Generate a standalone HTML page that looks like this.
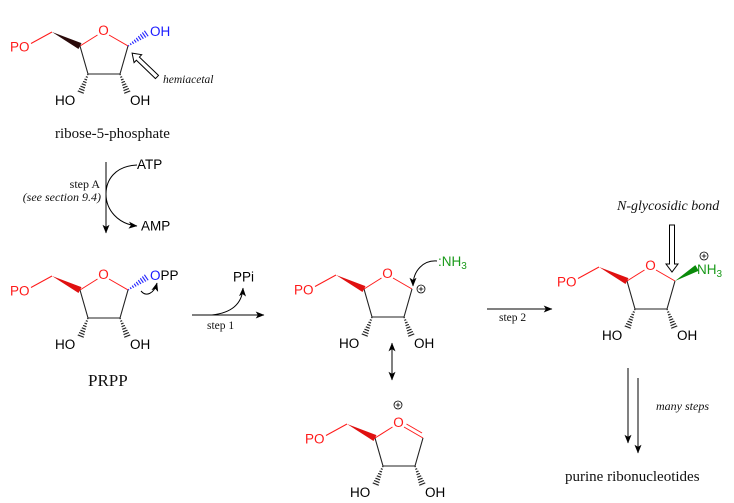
<!DOCTYPE html>
<html><head><meta charset="utf-8"><style>
html,body{margin:0;padding:0;background:#fff;}
svg{display:block;}
.a{font-family:"Liberation Sans",Arial,sans-serif;font-size:13.5px;}
.s{font-family:"Liberation Serif","Times New Roman",serif;fill:#111;}
.i{font-style:italic;}
</style></head><body>
<svg width="734" height="503" viewBox="0 0 734 503" xmlns="http://www.w3.org/2000/svg">
<defs>
<pattern id="hk" patternUnits="userSpaceOnUse" x="0" y="-10" width="2.7" height="20"><rect x="0" y="0" width="1.1" height="20" fill="#111"/></pattern>
<pattern id="hb" patternUnits="userSpaceOnUse" x="0" y="-10" width="2.7" height="20"><rect x="0" y="0" width="1.1" height="20" fill="#1a1aff"/></pattern>
<clipPath id="tri" clipPathUnits="objectBoundingBox"><polygon points="0,0.42 1,0 1,1 0,0.58"/></clipPath>
<marker id="ah" viewBox="0 0 10 8" refX="9.5" refY="4" markerWidth="9" markerHeight="7" markerUnits="userSpaceOnUse" orient="auto-start-reverse"><path d="M0,0 L10,4 L0,8 L2.5,4z" fill="#000"/></marker>
<g id="ring">
 <line x1="31" y1="43.5" x2="52" y2="32" stroke="#ff1a1a" stroke-width="1"/>
 <line x1="80" y1="46" x2="97.5" y2="35" stroke="#ff1a1a" stroke-width="1"/>
 <line x1="109" y1="35" x2="128" y2="46" stroke="#ff1a1a" stroke-width="1"/>
 <path d="M128,46 L120,74 L88,74 L80,46" fill="none" stroke="#222" stroke-width="1.1"/>
 <g transform="translate(88,74) rotate(111.8)"><rect x="0" y="-3.5" width="21.5" height="7" fill="url(#hk)" clip-path="url(#tri)"/></g>
 <g transform="translate(120,74) rotate(68.2)"><rect x="0" y="-3.5" width="21.5" height="7" fill="url(#hk)" clip-path="url(#tri)"/></g>
</g>
</defs>
<rect width="734" height="503" fill="#fff"/>

<!-- Molecule 1: ribose-5-phosphate -->
<g transform="translate(0,0)">
 <use href="#ring"/>
 <g transform="translate(52,32) rotate(26.6)"><polygon points="0,0 31.3,-3.3 31.3,3.3" fill="#2a0a0a"/></g>
 <g transform="translate(128,46) rotate(-34.4)"><rect x="0" y="-3.5" width="23" height="7" fill="url(#hb)" clip-path="url(#tri)"/></g>
 <text class="a" x="10" y="51.5" fill="#ff1a1a">PO</text>
 <text class="a" x="103.5" y="35" fill="#ff1a1a" text-anchor="middle">O</text>
 <text class="a" x="150" y="36" fill="#1a1aff">OH</text>
 <text class="a" x="55" y="105" fill="#000">HO</text>
 <text class="a" x="130" y="105" fill="#000">OH</text>
</g>
<g transform="translate(157,77) rotate(-136.2)"><polygon points="0,-2.2 26.5,-2.2 26.5,-5.5 34.5,0 26.5,5.5 26.5,2.2 0,2.2" fill="#fff" stroke="#000" stroke-width="1"/></g>
<text class="s i" x="163" y="83" font-size="11.5">hemiacetal</text>
<text class="s" x="55" y="138" font-size="15">ribose-5-phosphate</text>

<!-- Step A -->
<line x1="106" y1="162" x2="106" y2="233" stroke="#000" stroke-width="1" marker-end="url(#ah)"/>
<path d="M137,165 C115,166 106,180 106,194 C106,210 118,224 137,226" fill="none" stroke="#000" stroke-width="1" marker-end="url(#ah)"/>
<text class="a" x="137" y="169" font-size="12">ATP</text>
<text class="a" x="141" y="230.5" font-size="12">AMP</text>
<text class="s" x="100" y="188" font-size="12" text-anchor="end">step A</text>
<text class="s i" x="101" y="201" font-size="12" text-anchor="end">(see section 9.4)</text>

<!-- PRPP -->
<g transform="translate(0,244)">
 <use href="#ring"/>
 <g transform="translate(52,32) rotate(26.6)"><polygon points="0,0 31.3,-3.3 31.3,3.3" fill="#e01010"/></g>
 <g transform="translate(128,46) rotate(-34.4)"><rect x="0" y="-3.5" width="23" height="7" fill="url(#hb)" clip-path="url(#tri)"/></g>
 <text class="a" x="10" y="51.5" fill="#ff1a1a">PO</text>
 <text class="a" x="103.5" y="35" fill="#ff1a1a" text-anchor="middle">O</text>
 <text class="a" x="150" y="36"><tspan fill="#1a1aff">O</tspan><tspan fill="#000">PP</tspan></text>
 <text class="a" x="55" y="105" fill="#000">HO</text>
 <text class="a" x="130" y="105" fill="#000">OH</text>
</g>
<path d="M141,291 C146,297 154,294 157,283" fill="none" stroke="#000" stroke-width="1" marker-end="url(#ah)"/>
<text class="s" x="88" y="386" font-size="17">PRPP</text>

<!-- Step 1 -->
<line x1="192" y1="315" x2="264" y2="315" stroke="#000" stroke-width="1" marker-end="url(#ah)"/>
<path d="M212,315 C230,313 242,305 243,288" fill="none" stroke="#000" stroke-width="1" marker-end="url(#ah)"/>
<text class="a" x="233" y="281.5" font-size="11.5">PPi</text>
<text class="s" x="207" y="329" font-size="11.5">step 1</text>

<!-- Molecule 3: oxocarbenium -->
<g transform="translate(284,243)">
 <use href="#ring"/>
 <g transform="translate(52,32) rotate(26.6)"><polygon points="0,0 31.3,-3.3 31.3,3.3" fill="#e01010"/></g>
 <text class="a" x="10" y="51.5" fill="#ff1a1a">PO</text>
 <text class="a" x="103.5" y="35" fill="#ff1a1a" text-anchor="middle">O</text>
 <text class="a" x="55" y="105" fill="#000">HO</text>
 <text class="a" x="130" y="105" fill="#000">OH</text>
 <g transform="translate(137,46)"><circle r="4" fill="none" stroke="#000" stroke-width="0.8"/><path d="M-2.3,0H2.3M0,-2.3V2.3" stroke="#000" stroke-width="0.8"/></g>
</g>
<text class="a" x="438" y="266" fill="#1a9a1a">:NH<tspan font-size="10" dy="3">3</tspan></text>
<path d="M437,261 C424,260 413,270 413,286" fill="none" stroke="#000" stroke-width="1" marker-end="url(#ah)"/>

<!-- resonance arrow -->
<line x1="392" y1="343" x2="392" y2="380" stroke="#000" stroke-width="1" marker-start="url(#ah)" marker-end="url(#ah)"/>

<!-- Molecule 4 -->
<g transform="translate(295,392)">
 <use href="#ring"/>
 <g transform="translate(52,32) rotate(26.6)"><polygon points="0,0 31.3,-3.3 31.3,3.3" fill="#e01010"/></g>
 <line x1="111.5" y1="32" x2="127" y2="41" stroke="#ff1a1a" stroke-width="1"/>
 <text class="a" x="103.5" y="35" fill="#ff1a1a" text-anchor="middle">O</text>
 <text class="a" x="10" y="51.5" fill="#ff1a1a">PO</text>
 <text class="a" x="55" y="105" fill="#000">HO</text>
 <text class="a" x="130" y="105" fill="#000">OH</text>
 <g transform="translate(103,13)"><circle r="4" fill="none" stroke="#000" stroke-width="0.8"/><path d="M-2.3,0H2.3M0,-2.3V2.3" stroke="#000" stroke-width="0.8"/></g>
</g>

<!-- Step 2 -->
<line x1="487" y1="309" x2="552" y2="309" stroke="#000" stroke-width="1" marker-end="url(#ah)"/>
<text class="s" x="499" y="321" font-size="11.5">step 2</text>

<!-- Molecule 5 -->
<g transform="translate(547,235)">
 <use href="#ring"/>
 <g transform="translate(52,32) rotate(26.6)"><polygon points="0,0 31.3,-3.3 31.3,3.3" fill="#e01010"/></g>
 <g transform="translate(128,46) rotate(-30.6)"><polygon points="0,0 25.6,-3.3 25.6,3.3" fill="#0a8a0a"/></g>
 <text class="a" x="10" y="51.5" fill="#ff1a1a">PO</text>
 <text class="a" x="103.5" y="35" fill="#ff1a1a" text-anchor="middle">O</text>
 <text class="a" x="55" y="105" fill="#000">HO</text>
 <text class="a" x="130" y="105" fill="#000">OH</text>
 <text class="a" x="150" y="39" fill="#1a9a1a">NH<tspan font-size="10" dy="3">3</tspan></text>
 <g transform="translate(157,21)"><circle r="4" fill="none" stroke="#000" stroke-width="0.8"/><path d="M-2.3,0H2.3M0,-2.3V2.3" stroke="#000" stroke-width="0.8"/></g>
</g>
<text class="s i" x="617" y="210" font-size="14">N-glycosidic bond</text>
<g transform="translate(672,225) rotate(90)"><polygon points="0,-2.5 39,-2.5 39,-6 47,0 39,6 39,2.5 0,2.5" fill="#fff" stroke="#000" stroke-width="1"/></g>

<!-- many steps -->
<line x1="628" y1="368" x2="628" y2="443" stroke="#000" stroke-width="1" marker-end="url(#ah)"/>
<line x1="638" y1="378" x2="638" y2="453" stroke="#000" stroke-width="1" marker-end="url(#ah)"/>
<text class="s i" x="656" y="410" font-size="12">many steps</text>
<text class="s" x="565" y="481" font-size="15">purine ribonucleotides</text>
</svg>
</body></html>
